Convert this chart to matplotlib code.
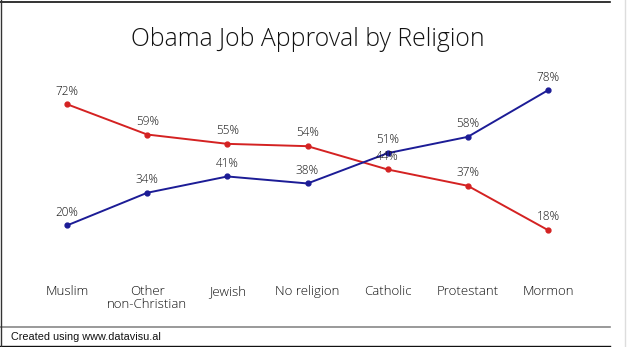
import matplotlib
matplotlib.use('Agg')
import matplotlib.pyplot as plt
from matplotlib.lines import Line2D

# data
religions = ['Muslim', 'Other\nnon-Christian', 'Jewish', 'No religion',
             'Catholic', 'Protestant', 'Mormon']
approve = [72, 59, 55, 54, 44, 37, 18]
disapprove = [20, 34, 41, 38, 51, 58, 78]

RED = '#d42222'
BLUE = '#1c1c96'

W, H = 627, 347
fig = plt.figure(figsize=(W / 100, H / 100), dpi=100)

# chart area in pixels: categories 67..548, 0% at y=272, 100% at y=39
ax = fig.add_axes([27 / W, (H - 272) / H, (588 - 27) / W, (272 - 39) / H])
ax.set_xlim(-0.5, 6.5)
ax.set_ylim(0, 100)
for s in ax.spines.values():
    s.set_visible(False)
ax.set_yticks([])
ax.patch.set_alpha(0)
x = range(len(religions))
ax.set_xticks(list(x))
ax.set_xticklabels(religions, fontsize=9.5, family='Open Sans', weight=300,
                   color='#111111', linespacing=1.0, va='top')
ax.tick_params(axis='x', length=0, pad=9.5)

for vals, col in ((approve, RED), (disapprove, BLUE)):
    ax.plot(x, vals, color=col, lw=1.4, marker='o', ms=3.5, clip_on=False)
    for xi, v in zip(x, vals):
        ax.annotate(f'{v}%', (xi, v), xytext=(0, 9.5), textcoords='offset points',
                    ha='center', va='center', fontsize=8.5, family='Open Sans',
                    weight=300, color='#111111')

fig.text(308 / W, 1 - 40 / H, 'Obama Job Approval by Religion', ha='center',
         va='center', fontsize=17.8, family='Open Sans', weight=300, color='#111111')
fig.text(11 / W, 1 - 337 / H, 'Created using www.datavisu.al', ha='left',
         va='center', fontsize=7.8, family='Liberation Sans', color='#111111')

# frame lines
def hline(y, x0, x1, col, lw):
    fig.add_artist(Line2D([x0 / W, x1 / W], [1 - y / H, 1 - y / H],
                          color=col, lw=lw, transform=fig.transFigure))

def vline(xp, y0, y1, col, lw):
    fig.add_artist(Line2D([xp / W, xp / W], [1 - y0 / H, 1 - y1 / H],
                          color=col, lw=lw, transform=fig.transFigure))

hline(1.5, 0, 610, '#111111', 1.2)
hline(327, 0, 610, '#888888', 1.2)
hline(345.5, 0, 610, '#111111', 1.0)
vline(1, 0, 346, '#333333', 1.0)
vline(625, 0, 347, '#dddddd', 1.0)

fig.savefig('out.png', dpi=100, facecolor='white')
